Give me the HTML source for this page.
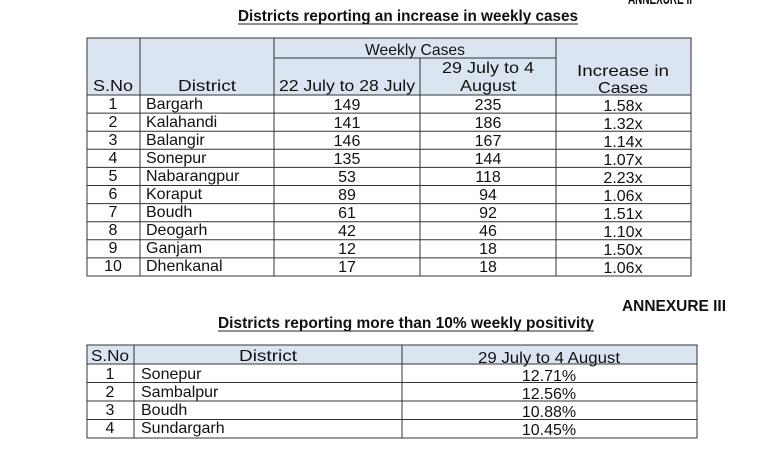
<!DOCTYPE html>
<html><head><meta charset="utf-8"><style>
html,body{margin:0;padding:0;background:#fff;width:773px;height:455px;overflow:hidden}
svg{display:block}
text{font-family:"Liberation Sans Narrow","Liberation Sans",Arial,sans-serif;font-size:16px;fill:#111}
.b{font-weight:bold}
.c{text-anchor:middle}
</style></head><body>
<svg width="773" height="455" viewBox="0 0 773 455">
<text x="628" y="4" class="b" font-size="15" textLength="64" lengthAdjust="spacingAndGlyphs">ANNEXURE II</text>
<text x="238" y="21" class="b" font-size="16" textLength="340" lengthAdjust="spacingAndGlyphs">Districts reporting an increase in weekly cases</text>
<line x1="238" y1="24" x2="578" y2="24" stroke="#222" stroke-width="1"/>
<rect x="87" y="38" width="604" height="57" fill="#dbe5f1"/>
<g stroke="#333" stroke-width="1" fill="none">
<rect x="87" y="38" width="604" height="238"/>
<line x1="274" y1="58" x2="556" y2="58"/>
<line x1="87" y1="95" x2="691" y2="95"/>
<line x1="87" y1="113.1" x2="691" y2="113.1"/>
<line x1="87" y1="131.2" x2="691" y2="131.2"/>
<line x1="87" y1="149.3" x2="691" y2="149.3"/>
<line x1="87" y1="167.4" x2="691" y2="167.4"/>
<line x1="87" y1="185.5" x2="691" y2="185.5"/>
<line x1="87" y1="203.6" x2="691" y2="203.6"/>
<line x1="87" y1="221.7" x2="691" y2="221.7"/>
<line x1="87" y1="239.8" x2="691" y2="239.8"/>
<line x1="87" y1="257.9" x2="691" y2="257.9"/>
<line x1="140" y1="38" x2="140" y2="276"/>
<line x1="274" y1="38" x2="274" y2="276"/>
<line x1="420" y1="58" x2="420" y2="276"/>
<line x1="556" y1="38" x2="556" y2="276"/>
</g>
<text x="415" y="55" class="c" textLength="100" lengthAdjust="spacingAndGlyphs">Weekly Cases</text>
<text x="113" y="91" class="c" textLength="40" lengthAdjust="spacingAndGlyphs">S.No</text>
<text x="207" y="91" class="c" textLength="58" lengthAdjust="spacingAndGlyphs">District</text>
<text x="347" y="91" class="c" textLength="136" lengthAdjust="spacingAndGlyphs">22 July to 28 July</text>
<text x="488" y="73" class="c" textLength="92" lengthAdjust="spacingAndGlyphs">29 July to 4</text>
<text x="488" y="91" class="c" textLength="56" lengthAdjust="spacingAndGlyphs">August</text>
<text x="623" y="76" class="c" textLength="92" lengthAdjust="spacingAndGlyphs">Increase in</text>
<text x="623" y="93" class="c" textLength="50" lengthAdjust="spacingAndGlyphs">Cases</text>
<g>
<text x="113" y="109" class="c">1</text><text x="146" y="109">Bargarh</text><text x="347" y="110" class="c">149</text><text x="488" y="110" class="c">235</text><text x="623" y="111" class="c">1.58x</text>
<text x="113" y="127" class="c">2</text><text x="146" y="127">Kalahandi</text><text x="347" y="128" class="c">141</text><text x="488" y="128" class="c">186</text><text x="623" y="129" class="c">1.32x</text>
<text x="113" y="145" class="c">3</text><text x="146" y="145">Balangir</text><text x="347" y="146" class="c">146</text><text x="488" y="146" class="c">167</text><text x="623" y="147" class="c">1.14x</text>
<text x="113" y="163" class="c">4</text><text x="146" y="163">Sonepur</text><text x="347" y="164" class="c">135</text><text x="488" y="164" class="c">144</text><text x="623" y="165" class="c">1.07x</text>
<text x="113" y="181" class="c">5</text><text x="146" y="181">Nabarangpur</text><text x="347" y="182" class="c">53</text><text x="488" y="182" class="c">118</text><text x="623" y="183" class="c">2.23x</text>
<text x="113" y="199" class="c">6</text><text x="146" y="199">Koraput</text><text x="347" y="200" class="c">89</text><text x="488" y="200" class="c">94</text><text x="623" y="201" class="c">1.06x</text>
<text x="113" y="217" class="c">7</text><text x="146" y="217">Boudh</text><text x="347" y="218" class="c">61</text><text x="488" y="218" class="c">92</text><text x="623" y="219" class="c">1.51x</text>
<text x="113" y="235" class="c">8</text><text x="146" y="235">Deogarh</text><text x="347" y="236" class="c">42</text><text x="488" y="236" class="c">46</text><text x="623" y="237" class="c">1.10x</text>
<text x="113" y="253" class="c">9</text><text x="146" y="253">Ganjam</text><text x="347" y="254" class="c">12</text><text x="488" y="254" class="c">18</text><text x="623" y="255" class="c">1.50x</text>
<text x="113" y="271" class="c">10</text><text x="146" y="271">Dhenkanal</text><text x="347" y="272" class="c">17</text><text x="488" y="272" class="c">18</text><text x="623" y="273" class="c">1.06x</text>
</g>

<text x="622" y="311" class="b" textLength="104" lengthAdjust="spacingAndGlyphs">ANNEXURE III</text>
<text x="218" y="328" class="b" textLength="376" lengthAdjust="spacingAndGlyphs">Districts reporting more than 10% weekly positivity</text>
<line x1="218" y1="331" x2="594" y2="331" stroke="#222" stroke-width="1"/>
<rect x="87" y="345" width="610" height="19" fill="#dbe5f1"/>
<g stroke="#333" stroke-width="1" fill="none">
<rect x="87" y="345" width="610" height="93"/>
<line x1="87" y1="364" x2="697" y2="364"/>
<line x1="87" y1="382.5" x2="697" y2="382.5"/>
<line x1="87" y1="401" x2="697" y2="401"/>
<line x1="87" y1="419.5" x2="697" y2="419.5"/>
<line x1="134" y1="345" x2="134" y2="438"/>
<line x1="402" y1="345" x2="402" y2="438"/>
</g>
<text x="110" y="361" class="c" textLength="38" lengthAdjust="spacingAndGlyphs">S.No</text>
<text x="268" y="361" class="c" textLength="58" lengthAdjust="spacingAndGlyphs">District</text>
<text x="549" y="363" class="c" textLength="142" lengthAdjust="spacingAndGlyphs">29 July to 4 August</text>
<text x="110" y="379" class="c">1</text><text x="141" y="379">Sonepur</text><text x="549" y="381" class="c">12.71%</text>
<text x="110" y="397" class="c">2</text><text x="141" y="397">Sambalpur</text><text x="549" y="399" class="c">12.56%</text>
<text x="110" y="415" class="c">3</text><text x="141" y="415">Boudh</text><text x="549" y="417" class="c">10.88%</text>
<text x="110" y="433" class="c">4</text><text x="141" y="433">Sundargarh</text><text x="549" y="435" class="c">10.45%</text>
</svg>
</body></html>
